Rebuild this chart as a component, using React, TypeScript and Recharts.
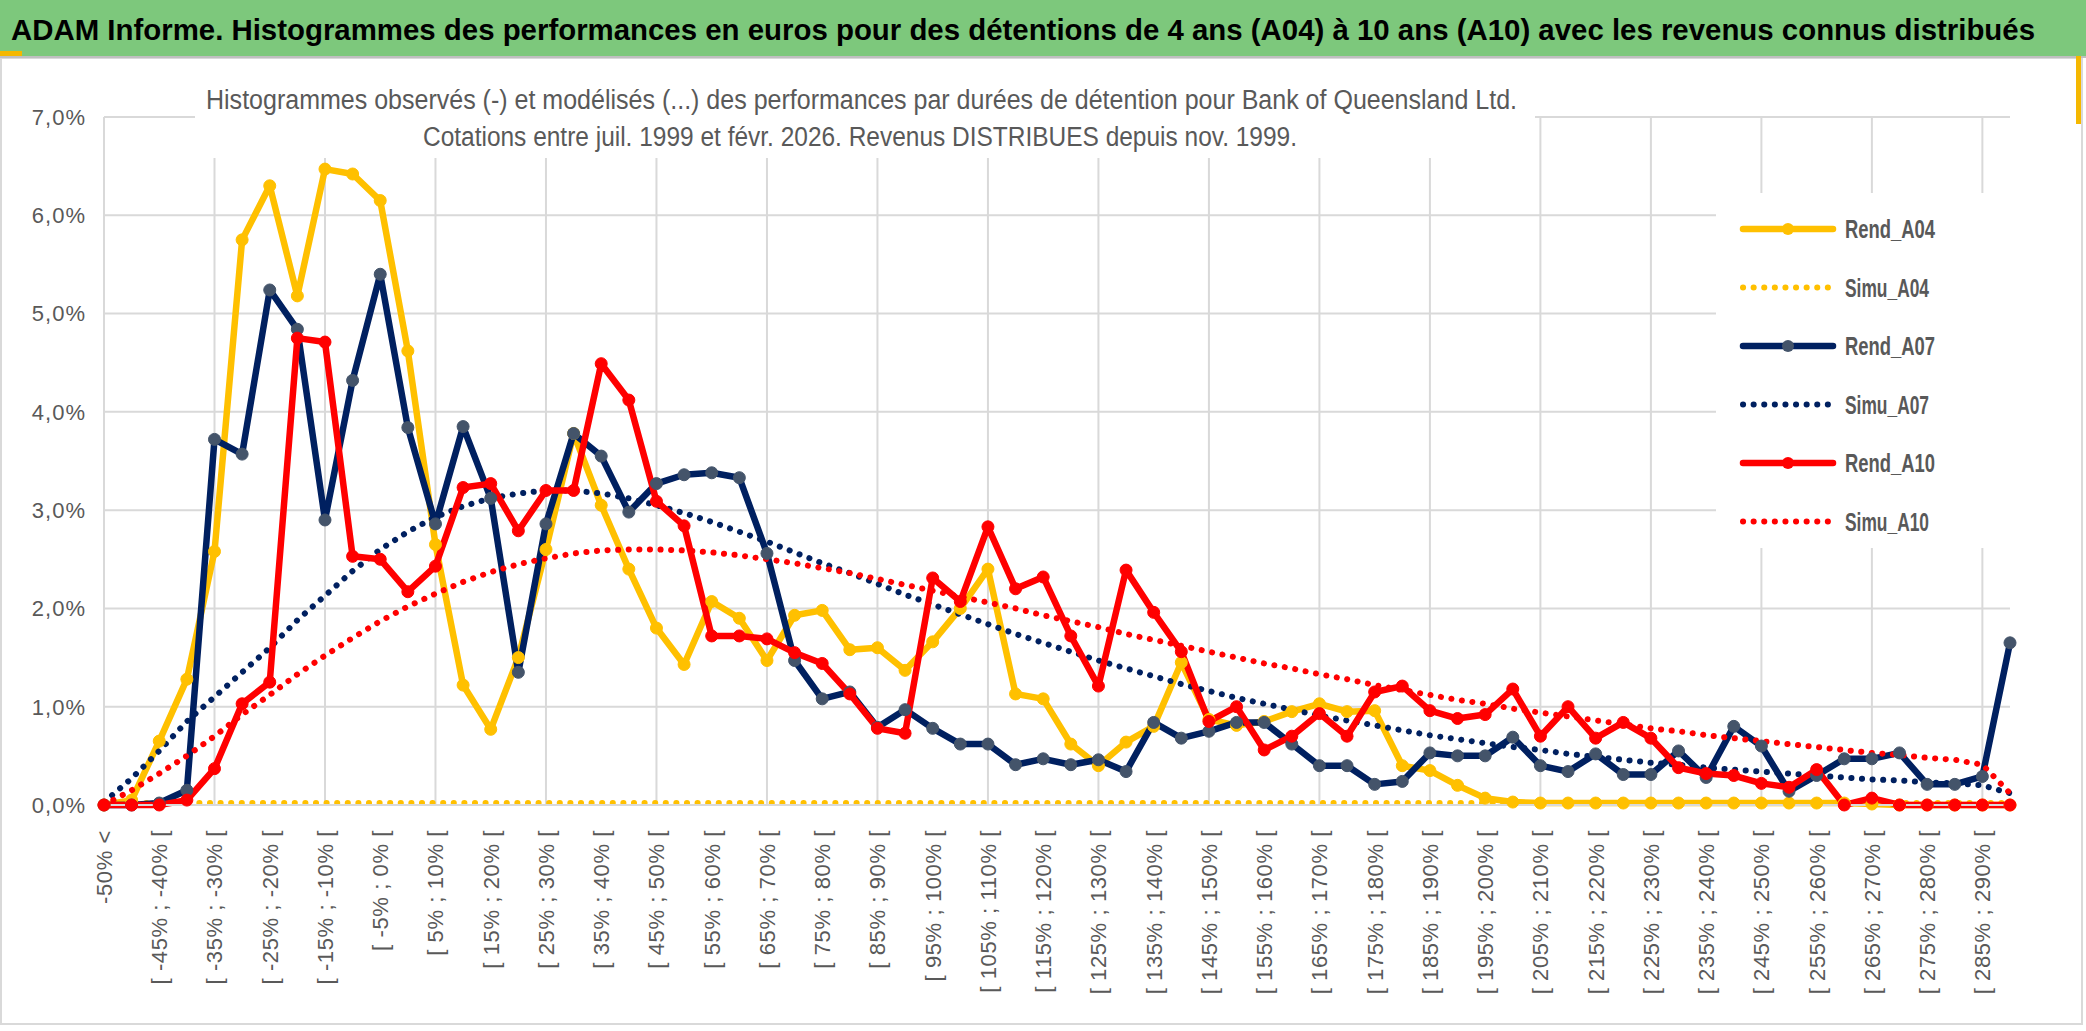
import React from "react";
import {
  LineChart,
  Line,
  XAxis,
  YAxis,
  CartesianGrid,
  Legend,
} from "recharts";

// x categories (performance buckets)
const categories = [
  "-50% <",
  "[ -50% ; -45% [", "[ -45% ; -40% [", "[ -40% ; -35% [", "[ -35% ; -30% [",
  "[ -30% ; -25% [", "[ -25% ; -20% [", "[ -20% ; -15% [", "[ -15% ; -10% [",
  "[ -10% ; -5% [", "[ -5% ; 0% [", "[ 0% ; 5% [", "[ 5% ; 10% [",
  "[ 10% ; 15% [", "[ 15% ; 20% [", "[ 20% ; 25% [", "[ 25% ; 30% [",
  "[ 30% ; 35% [", "[ 35% ; 40% [", "[ 40% ; 45% [", "[ 45% ; 50% [",
  "[ 50% ; 55% [", "[ 55% ; 60% [", "[ 60% ; 65% [", "[ 65% ; 70% [",
  "[ 70% ; 75% [", "[ 75% ; 80% [", "[ 80% ; 85% [", "[ 85% ; 90% [",
  "[ 90% ; 95% [", "[ 95% ; 100% [", "[ 100% ; 105% [", "[ 105% ; 110% [",
  "[ 110% ; 115% [", "[ 115% ; 120% [", "[ 120% ; 125% [", "[ 125% ; 130% [",
  "[ 130% ; 135% [", "[ 135% ; 140% [", "[ 140% ; 145% [", "[ 145% ; 150% [",
  "[ 150% ; 155% [", "[ 155% ; 160% [", "[ 160% ; 165% [", "[ 165% ; 170% [",
  "[ 170% ; 175% [", "[ 175% ; 180% [", "[ 180% ; 185% [", "[ 185% ; 190% [",
  "[ 190% ; 195% [", "[ 195% ; 200% [", "[ 200% ; 205% [", "[ 205% ; 210% [",
  "[ 210% ; 215% [", "[ 215% ; 220% [", "[ 220% ; 225% [", "[ 225% ; 230% [",
  "[ 230% ; 235% [", "[ 235% ; 240% [", "[ 240% ; 245% [", "[ 245% ; 250% [",
  "[ 250% ; 255% [", "[ 255% ; 260% [", "[ 260% ; 265% [", "[ 265% ; 270% [",
  "[ 270% ; 275% [", "[ 275% ; 280% [", "[ 280% ; 285% [", "[ 285% ; 290% [",
  "[ 290% ; 295% [",
];

const yTicks = [0, 1, 2, 3, 4, 5, 6, 7];

// values in %
const rendA04 = [
  0, 0.05, 0.65, 1.28, 2.58, 5.75, 6.3, 5.18, 6.47, 6.42,
  6.15, 4.62, 2.65, 1.22, 0.77, 1.5, 2.6, 3.78, 3.05, 2.4,
  1.8, 1.43, 2.07, 1.9, 1.47, 1.93, 1.98, 1.58, 1.6, 1.37,
  1.66, 2.0, 2.4, 1.13, 1.08, 0.62, 0.4, 0.64, 0.8, 1.45,
  0.87, 0.81, 0.85, 0.95, 1.03, 0.95, 0.96, 0.4, 0.35, 0.2,
  0.07, 0.03, 0.02, 0.02, 0.02, 0.02, 0.02, 0.02, 0.02, 0.02,
  0.02, 0.02, 0.02, 0.02, 0.01, 0, 0, 0, 0, 0,
];

const simuA04 = [
  0, 0.02, 0.02, 0.02, 0.02, 0.02, 0.02, 0.02, 0.02, 0.02,
  0.02, 0.02, 0.02, 0.02, 0.02, 0.02, 0.02, 0.02, 0.02, 0.02,
  0.02, 0.02, 0.02, 0.02, 0.02, 0.02, 0.02, 0.02, 0.02, 0.02,
  0.02, 0.02, 0.02, 0.02, 0.02, 0.02, 0.02, 0.02, 0.02, 0.02,
  0.02, 0.02, 0.02, 0.02, 0.02, 0.02, 0.02, 0.02, 0.02, 0.02,
  0.02, 0.02, 0.02, 0.02, 0.02, 0.02, 0.02, 0.02, 0.02, 0.02,
  0.02, 0.02, 0.02, 0.02, 0.02, 0.02, 0.02, 0.02, 0.02, 0.02,
];

const rendA07 = [
  0, 0, 0.02, 0.15, 3.72, 3.57, 5.24, 4.84, 2.9, 4.32,
  5.4, 3.84, 2.86, 3.85, 3.12, 1.35, 2.86, 3.78, 3.55, 2.98,
  3.27, 3.36, 3.38, 3.33, 2.56, 1.47, 1.08, 1.15, 0.79, 0.97,
  0.78, 0.62, 0.62, 0.41, 0.47, 0.41, 0.46, 0.34, 0.84, 0.68,
  0.75, 0.84, 0.84, 0.62, 0.4, 0.4, 0.21, 0.24, 0.53, 0.5,
  0.5, 0.69, 0.4, 0.34, 0.52, 0.31, 0.31, 0.55, 0.28, 0.8,
  0.6, 0.14, 0.3, 0.47, 0.47, 0.53, 0.21, 0.21, 0.29, 1.65,
];

const simuA07 = [
  0.03, 0.27, 0.55, 0.85, 1.1, 1.35, 1.6, 1.88, 2.13, 2.38,
  2.6, 2.78, 2.93, 3.04, 3.12, 3.17, 3.2, 3.2, 3.17, 3.12,
  3.05, 2.97, 2.88, 2.78, 2.68, 2.57, 2.46, 2.36, 2.25, 2.14,
  2.04, 1.94, 1.84, 1.74, 1.65, 1.56, 1.47, 1.39, 1.31, 1.23,
  1.16, 1.09, 1.03, 0.97, 0.91, 0.86, 0.81, 0.76, 0.71, 0.67,
  0.63, 0.59, 0.56, 0.52, 0.49, 0.46, 0.43, 0.41, 0.38, 0.36,
  0.34, 0.32, 0.3, 0.28, 0.26, 0.25, 0.23, 0.22, 0.2, 0.12,
];

const rendA10 = [
  0, 0, 0, 0.05, 0.37, 1.03, 1.25, 4.75, 4.71, 2.53,
  2.5, 2.17, 2.43, 3.23, 3.27, 2.79, 3.2, 3.2, 4.49, 4.12,
  3.09, 2.84, 1.72, 1.72, 1.69, 1.55, 1.44, 1.13, 0.78, 0.73,
  2.31, 2.07, 2.83, 2.2, 2.32, 1.72, 1.21, 2.39, 1.96, 1.56,
  0.85, 1.0, 0.56, 0.7, 0.93, 0.7, 1.15, 1.21, 0.96, 0.88,
  0.92, 1.18, 0.7, 1.0, 0.68, 0.84, 0.68, 0.38, 0.32, 0.3,
  0.22, 0.18, 0.36, 0, 0.07, 0, 0, 0, 0, 0,
];

const simuA10 = [
  0, 0.15, 0.32, 0.5, 0.7, 0.92, 1.12, 1.33, 1.52, 1.7,
  1.87, 2.02, 2.15, 2.27, 2.37, 2.45, 2.51, 2.56, 2.59, 2.6,
  2.6, 2.59, 2.57, 2.54, 2.5, 2.46, 2.41, 2.36, 2.3, 2.24,
  2.18, 2.12, 2.06, 2.0, 1.93, 1.87, 1.81, 1.74, 1.68, 1.62,
  1.56, 1.5, 1.44, 1.39, 1.33, 1.28, 1.22, 1.17, 1.12, 1.07,
  1.03, 0.98, 0.94, 0.9, 0.86, 0.82, 0.78, 0.75, 0.71, 0.68,
  0.65, 0.62, 0.59, 0.56, 0.53, 0.51, 0.48, 0.46, 0.41, 0.12,
];

const series = [
  { key: "Rend_A04", values: rendA04, color: "#FFC000", marker: "#FFC000", dotted: false },
  { key: "Simu_A04", values: simuA04, color: "#FFC000", marker: "", dotted: true },
  { key: "Rend_A07", values: rendA07, color: "#002060", marker: "#44546A", dotted: false },
  { key: "Simu_A07", values: simuA07, color: "#002060", marker: "", dotted: true },
  { key: "Rend_A10", values: rendA10, color: "#FF0000", marker: "#FF0000", dotted: false },
  { key: "Simu_A10", values: simuA10, color: "#FF0000", marker: "", dotted: true },
];

const data = categories.map((cat, i) => {
  const row: Record<string, any> = { cat };
  series.forEach((s) => (row[s.key] = s.values[i]));
  return row;
});

const W = 2086;
const H = 1031;
const FONT = "'Liberation Sans', Arial, sans-serif";
const GRID = "#D9D9D9";
const TEXT = "#595959";
const DOTS = "0.1 10.5";

const fmtPct = (v: number) => `${v.toFixed(1).replace(".", ",")}%`;

const XTick = (props: any) => {
  const { x, y, payload } = props;
  const yy = y + 17;
  return (
    <text
      x={x}
      y={yy}
      dy="0.36em"
      textAnchor="end"
      transform={`rotate(-90, ${x}, ${yy})`}
      fill={TEXT}
      fontSize={22}
      letterSpacing={0.6}
      fontFamily={FONT}
    >
      {payload.value}
    </text>
  );
};

const LegendBox = () => (
  <svg width={300} height={355}>
    {series.map((s, i) => {
      const cy = 36 + i * 58.5;
      return (
        <g key={s.key}>
          <line
            x1={27}
            x2={117}
            y1={cy}
            y2={cy}
            stroke={s.color}
            strokeWidth={s.dotted ? 6 : 6.5}
            strokeDasharray={s.dotted ? DOTS : undefined}
            strokeLinecap="round"
          />
          {!s.dotted && <circle cx={72} cy={cy} r={6} fill={s.marker} />}
          <text
            x={129}
            y={cy + 9}
            fontSize={25}
            fontWeight="bold"
            fill={TEXT}
            fontFamily={FONT}
            textLength={s.dotted ? 84 : 90}
            lengthAdjust="spacingAndGlyphs"
          >
            {s.key}
          </text>
        </g>
      );
    })}
  </svg>
);

export default function App() {
  return (
    <div
      style={{
        position: "absolute",
        left: 0,
        top: 0,
        width: W,
        height: H,
        background: "#fff",
        fontFamily: FONT,
        overflow: "hidden",
      }}
    >
      <LineChart
        width={W}
        height={H}
        data={data}
        margin={{ top: 117, right: 76, bottom: 0, left: 0 }}
      >
        <CartesianGrid
          stroke={GRID}
          strokeWidth={2}
          verticalCoordinatesGenerator={({ xAxis, offset }: any) => {
            const s = xAxis && xAxis.scale;
            const out: number[] = [];
            categories.forEach((c, i) => {
              if (i % 4 !== 0) return;
              if (typeof s === "function") out.push(s(c));
              else out.push(offset.left + (i * offset.width) / (categories.length - 1));
            });
            return out;
          }}
        />
        <XAxis
          dataKey="cat"
          interval={1}
          height={226}
          tick={<XTick />}
          tickLine={false}
          axisLine={{ stroke: GRID, strokeWidth: 2 }}
        />
        <YAxis
          width={104}
          domain={[0, 7]}
          ticks={yTicks}
          tickFormatter={fmtPct}
          axisLine={false}
          tickLine={false}
          tickSize={0}
          tickMargin={18}
          tick={{ fill: TEXT, fontSize: 22, fontFamily: FONT, letterSpacing: 1 }}
        />
        <Legend
          layout="horizontal"
          verticalAlign="middle"
          align="center"
          wrapperStyle={{
            left: 1716,
            top: 193,
            width: 300,
            height: 355,
            background: "#fff",
          }}
          content={() => <LegendBox />}
        />
        {series.map((s) =>
          s.dotted ? (
            <Line
              key={s.key}
              dataKey={s.key}
              name={s.key}
              type="linear"
              stroke={s.color}
              strokeWidth={6}
              strokeDasharray={DOTS}
              strokeLinecap="round"
              dot={false}
              activeDot={false}
              isAnimationActive={false}
            />
          ) : (
            <Line
              key={s.key}
              dataKey={s.key}
              name={s.key}
              type="linear"
              stroke={s.color}
              strokeWidth={6.5}
              strokeLinejoin="round"
              dot={{ r: 6, fill: s.marker, stroke: s.marker, strokeWidth: 1 }}
              activeDot={false}
              isAnimationActive={false}
            />
          )
        )}
      </LineChart>

      <svg
        width={W}
        height={H}
        style={{ position: "absolute", left: 0, top: 0, pointerEvents: "none" }}
      >
        <rect x={1} y={58} width={2081} height={966} fill="none" stroke={GRID} strokeWidth={2} />
        <rect x={0} y={0} width={W} height={56} fill="#7DC87C" />
        <line x1={0} x2={W} y1={57} y2={57} stroke="#BFBFBF" strokeWidth={2} />
        <rect x={0} y={51} width={22} height={5} fill="#F5B800" />
        <rect x={2076} y={56} width={5} height={68} fill="#F5B800" />
        <text
          x={11}
          y={40}
          fontSize={29}
          fontWeight="bold"
          fill="#000"
          fontFamily={FONT}
          textLength={2024}
          lengthAdjust="spacingAndGlyphs"
        >
          ADAM Informe. Histogrammes des performances en euros pour des détentions de 4 ans (A04) à 10 ans (A10) avec les revenus connus distribués
        </text>
        <rect x={195} y={70} width={1340} height={88} fill="#fff" />
        <text
          x={206}
          y={109}
          fontSize={27}
          fill={TEXT}
          fontFamily={FONT}
          textLength={1311}
          lengthAdjust="spacingAndGlyphs"
        >
          Histogrammes observés (-) et modélisés (...) des performances par durées de détention pour Bank of Queensland Ltd.
        </text>
        <text
          x={423}
          y={146}
          fontSize={27}
          fill={TEXT}
          fontFamily={FONT}
          textLength={874}
          lengthAdjust="spacingAndGlyphs"
        >
          Cotations entre juil. 1999 et févr. 2026. Revenus DISTRIBUES depuis nov. 1999.
        </text>
      </svg>
    </div>
  );
}
